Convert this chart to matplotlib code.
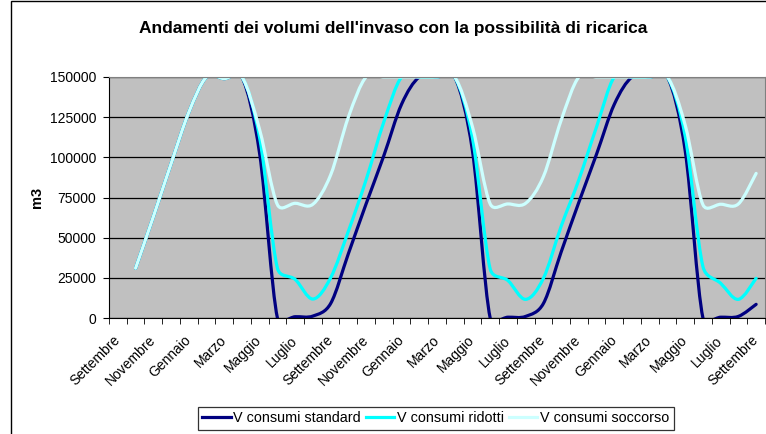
import numpy as np
import matplotlib
matplotlib.use('Agg')
import matplotlib.pyplot as plt
from matplotlib.path import Path
from matplotlib.patches import PathPatch, Rectangle
from matplotlib.lines import Line2D
import matplotlib.transforms as mtransforms

plt.rcParams['font.family'] = ['Liberation Sans', 'DejaVu Sans']

# mesi (categorie), da settembre a settembre tre anni dopo
mesi = ['Settembre', 'Ottobre', 'Novembre', 'Dicembre', 'Gennaio', 'Febbraio',
        'Marzo', 'Aprile', 'Maggio', 'Giugno', 'Luglio', 'Agosto'] * 3 + ['Settembre']

nan = np.nan
v_standard = [nan, 31000, 63000, 96000, 128000, 150000, 149000, 150000, 102000, 0, 800, 1200,
              9000, 40000, 71000, 101000, 133000, 150000, 150000, 150000, 104000, 0, 500, 1000,
              9000, 41000, 72000, 102000, 133000, 150000, 150000, 150000, 104000, 0, 500, 1000,
              8500]
v_ridotti = [nan, 31000, 63000, 96000, 128000, 150000, 149000, 150000, 112000, 31000, 24000, 11800,
             25000, 54000, 86000, 122000, 150000, 150000, 150000, 150000, 112000, 30500, 23300, 11600,
             24700, 57000, 86000, 119000, 150000, 150000, 150000, 150000, 113000, 32000, 21600, 11600,
             24700]
v_soccorso = [nan, 31000, 63000, 96000, 128000, 150000, 149000, 150000, 117000, 70500, 71400, 70800,
              89000, 125000, 150000, 150000, 150000, 150000, 150000, 150000, 119000, 71000, 71000, 71400,
              88000, 123000, 150000, 150000, 150000, 150000, 150000, 150000, 120000, 70500, 70800, 71000,
              90000]

serie = [('V consumi standard', v_standard, '#000080'),
         ('V consumi ridotti', v_ridotti, '#00FFFF'),
         ('V consumi soccorso', v_soccorso, '#CCFFFF')]

W, H = 766, 434
X0, X1, Y0, Y1 = 109, 765, 77, 318   # area del grafico in pixel


def smooth_path(xs, ys, sx, sy):
    # linea smussata tipo Excel: bezier con tangenti Catmull-Rom,
    # limitate a meta' del segmento (calcolate in pixel)
    pts = np.array([(x * sx, y * sy) for x, y in zip(xs, ys) if not np.isnan(y)])
    n = len(pts)
    verts = [pts[0]]
    codes = [Path.MOVETO]
    for i in range(n - 1):
        p0 = pts[i - 1] if i > 0 else pts[i]
        p1 = pts[i]
        p2 = pts[i + 1]
        p3 = pts[i + 2] if i + 2 < n else pts[i + 1]
        half = np.hypot(*(p2 - p1)) / 2
        t1 = (p2 - p0) / 6
        t2 = (p3 - p1) / 6
        if np.hypot(*t1) > half:
            t1 = t1 * half / np.hypot(*t1)
        if np.hypot(*t2) > half:
            t2 = t2 * half / np.hypot(*t2)
        verts += [p1 + t1, p2 - t2, p2]
        codes += [Path.CURVE4] * 3
    verts = np.array(verts) / [sx, sy]
    return Path(verts, codes)


fig = plt.figure(figsize=(W / 100, H / 100), dpi=100)
ax = fig.add_axes([X0 / W, 1 - Y1 / H, (X1 - X0) / W, (Y1 - Y0) / H])
ax.set_facecolor('#C0C0C0')

x = np.arange(len(mesi))
sx = (X1 - X0) / len(mesi)
sy = (Y1 - Y0) / 150000
for nome, vals, col in serie:
    p = PathPatch(smooth_path(x, vals, sx, sy), fill=False, edgecolor=col, lw=2.3,
                  transform=ax.transData, capstyle='round', joinstyle='round')
    ax.add_patch(p)

ax.set_xlim(-0.5, len(mesi) - 0.5)
ax.set_ylim(0, 150000)
yt = np.arange(0, 150001, 25000)
ax.set_yticks(yt)
ax.set_yticklabels([str(v) for v in yt])
ax.yaxis.grid(True, color='black', lw=0.9)
ax.set_axisbelow(True)

ax.set_xticks(x[::2])
ax.set_xticklabels(mesi[::2], rotation=45, ha='right', va='top', rotation_mode='anchor')
ax.set_xticks(np.arange(0, len(mesi) + 1) - 0.5, minor=True)
ax.tick_params(axis='x', which='major', length=0, pad=11, labelsize=10)
ax.tick_params(axis='x', which='minor', length=4, direction='out', color='black')
ax.tick_params(axis='y', length=4, direction='out', pad=5, labelsize=10)
off = mtransforms.ScaledTranslation(-5 / 100, 0, fig.dpi_scale_trans)
for lab in ax.get_xticklabels():
    lab.set_transform(lab.get_transform() + off)

for s in ['top', 'right']:
    ax.spines[s].set_color('#808080')
for s in ['left', 'bottom']:
    ax.spines[s].set_color('black')

fig.text(393.5 / W, 1 - 29 / H, "Andamenti dei volumi dell'invaso con la possibilità di ricarica",
         ha='center', va='center', fontsize=12.5, fontweight='bold')
fig.text(37 / W, 1 - 197 / H, 'm3', rotation=90, ha='center', va='center',
         fontsize=10.5, fontweight='bold')

handles = [Line2D([], [], color=c, lw=2.3) for _, _, c in serie]
leg = fig.legend(handles, [s[0] for s in serie], loc='center',
                 bbox_to_anchor=(436 / W, 1 - 418.5 / H), ncol=3, fontsize=10.4,
                 frameon=True, fancybox=False, handlelength=1.95, handletextpad=0.2,
                 columnspacing=0.35, borderpad=0.3, borderaxespad=0)
leg.get_frame().set_edgecolor('black')
leg.get_frame().set_linewidth(0.9)

fig.patches.append(Rectangle((11 / W, -0.1), 1.0, 1.1 - 1.5 / H, fill=False,
                             edgecolor='black', lw=1, transform=fig.transFigure))

fig.savefig('out.png', dpi=100)
